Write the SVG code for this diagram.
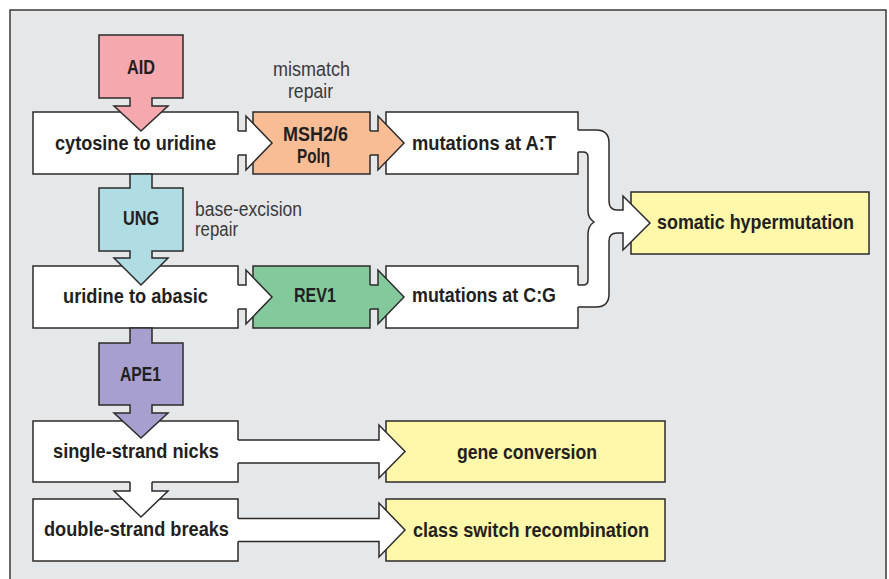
<svg xmlns="http://www.w3.org/2000/svg" width="889" height="579" viewBox="0 0 889 579">
<style>
.frame{fill:#e6e7e9;stroke:#3a3a3a;stroke-width:1.5}
.box{stroke:#2b2b2b;stroke-width:1.5;stroke-linejoin:miter}
.w{fill:#ffffff}
.pink{fill:#f5a9ae}
.orange{fill:#f9bd96}
.cyan{fill:#b0dde3}
.green{fill:#84c99c}
.purple{fill:#a7a0cf}
.yellow{fill:#fff7aa}
.cf{stroke:none}
.cl{fill:none;stroke:#2b2b2b;stroke-width:1.5;stroke-linejoin:miter}
.t{font-family:"Liberation Sans",Arial,sans-serif;font-weight:bold;font-size:21px;fill:#231f20}
.g{font-family:"Liberation Sans",Arial,sans-serif;font-weight:normal;font-size:20px;fill:#3a3a3a}
</style>
<rect class="frame" x="10" y="10" width="876" height="600"/>

<g id="cytosine">
<rect class="box w" x="33" y="112" width="205" height="62"/>
<text class="t" x="55" y="150" textLength="161" lengthAdjust="spacingAndGlyphs">cytosine to uridine</text>
</g>
<g id="msh">
<rect class="box orange" x="253" y="112" width="117" height="62"/>
<text class="t" x="283" y="141" textLength="65" lengthAdjust="spacingAndGlyphs">MSH2/6</text>
<text class="t" x="297" y="163" textLength="33" lengthAdjust="spacingAndGlyphs">Polη</text>
</g>
<g id="mismatch-label">
<text class="g" x="273" y="76" textLength="77" lengthAdjust="spacingAndGlyphs">mismatch</text>
<text class="g" x="288" y="98" textLength="45" lengthAdjust="spacingAndGlyphs">repair</text>
</g>
<g id="mut-at">
<rect class="box w" x="386" y="112" width="192" height="62"/>
<text class="t" x="412" y="150" textLength="144" lengthAdjust="spacingAndGlyphs">mutations at A:T</text>
</g>
<g id="uridine">
<rect class="box w" x="33" y="266" width="205" height="62"/>
<text class="t" x="63" y="303" textLength="145" lengthAdjust="spacingAndGlyphs">uridine to abasic</text>
</g>
<g id="ber-label">
<text class="g" x="195" y="216" textLength="107" lengthAdjust="spacingAndGlyphs">base-excision</text>
<text class="g" x="195" y="236" textLength="43" lengthAdjust="spacingAndGlyphs">repair</text>
</g>
<g id="rev1">
<rect class="box green" x="253" y="266" width="117" height="62"/>
<text class="t" x="294" y="302" textLength="42" lengthAdjust="spacingAndGlyphs">REV1</text>
</g>
<g id="mut-cg">
<rect class="box w" x="386" y="266" width="192" height="62"/>
<text class="t" x="412" y="302" textLength="144" lengthAdjust="spacingAndGlyphs">mutations at C:G</text>
</g>
<g id="shm">
<rect class="box yellow" x="631" y="192" width="238" height="62"/>
<text class="t" x="657" y="229" textLength="197" lengthAdjust="spacingAndGlyphs">somatic hypermutation</text>
</g>
<g id="ssn">
<rect class="box w" x="33" y="421" width="205" height="61"/>
<text class="t" x="53" y="458" textLength="166" lengthAdjust="spacingAndGlyphs">single-strand nicks</text>
</g>
<g id="gc">
<rect class="box yellow" x="386" y="421" width="279" height="61"/>
<text class="t" x="457" y="459" textLength="140" lengthAdjust="spacingAndGlyphs">gene conversion</text>
</g>
<g id="dsb">
<rect class="box w" x="33" y="499" width="205" height="62"/>
<text class="t" x="44" y="536" textLength="185" lengthAdjust="spacingAndGlyphs">double-strand breaks</text>
</g>
<g id="csr">
<rect class="box yellow" x="386" y="499" width="279" height="62"/>
<text class="t" x="413" y="537" textLength="236" lengthAdjust="spacingAndGlyphs">class switch recombination</text>
</g>

<g id="connectors">
<path class="cf w" d="M235,131 H246 V116 L272,143 L246,170 V155 H235 Z"/>
<path class="cl" d="M238,131 H246 V116 L272,143 L246,170 V155 H238"/>
<path class="cf orange" d="M367,131 H378 V116 L404,143 L378,170 V155 H367 Z"/>
<path class="cl" d="M370,131 H378 V116 L404,143 L378,170 V155 H370"/>
<path class="cf w" d="M235,285 H246 V270 L272,297 L246,324 V309 H235 Z"/>
<path class="cl" d="M238,285 H246 V270 L272,297 L246,324 V309 H238"/>
<path class="cf green" d="M367,285 H378 V270 L404,297 L378,324 V309 H367 Z"/>
<path class="cl" d="M370,285 H378 V270 L404,297 L378,324 V309 H370"/>
<path class="cf w" d="M575,130 H596 Q609,130 609,143 V201 Q609,210 617,210 H623 V196 L650,223 L623,250 V233 H617 Q609,233 609,241 V294 Q609,307 596,307 H575 V285 H583 Q588,285 588,280 V234 Q588,226 594,222 Q588,218 588,211 V157 Q588,152 583,152 H575 Z"/>
<path class="cl" d="M578,130 H596 Q609,130 609,143 V201 Q609,210 617,210 H623 V196 L650,223 L623,250 V233 H617 Q609,233 609,241 V294 Q609,307 596,307 H578"/>
<path class="cl" d="M578,285 H583 Q588,285 588,280 V234 Q588,226 594,222 Q588,218 588,211 V157 Q588,152 583,152 H578"/>
<path class="cf w" d="M235,440 H379 V425 L405,451.5 L379,478 V463 H235 Z"/>
<path class="cl" d="M238,440 H379 V425 L405,451.5 L379,478 V463 H238"/>
<path class="cf w" d="M235,518.5 H379 V503 L405,530 L379,557 V541.5 H235 Z"/>
<path class="cl" d="M238,518.5 H379 V503 L405,530 L379,557 V541.5 H238"/>
<path class="cf w" d="M130,479 V491 H114 L141,517 L168,491 H152 V479 Z"/>
<path class="cl" d="M130,482 V491 H114 L141,517 L168,491 H152 V482"/>
</g>

<g id="aid">
<path class="box pink" d="M99,35 H183 V98 H152 V106 H168 L141,131 L114,106 H130 V98 H99 Z"/>
<text class="t" x="127" y="74" textLength="28" lengthAdjust="spacingAndGlyphs">AID</text>
</g>
<g id="ung">
<path class="box cyan" d="M130,174 H152 V188 H183 V251 H152 V258 H168 L141,285 L114,258 H130 V251 H99 V188 H130 Z"/>
<text class="t" x="123" y="225" textLength="36" lengthAdjust="spacingAndGlyphs">UNG</text>
</g>
<g id="ape1">
<path class="box purple" d="M130,328 H152 V343 H183 V405 H152 V413 H168 L141,438 L114,413 H130 V405 H99 V343 H130 Z"/>
<text class="t" x="120" y="381" textLength="41" lengthAdjust="spacingAndGlyphs">APE1</text>
</g>
</svg>
